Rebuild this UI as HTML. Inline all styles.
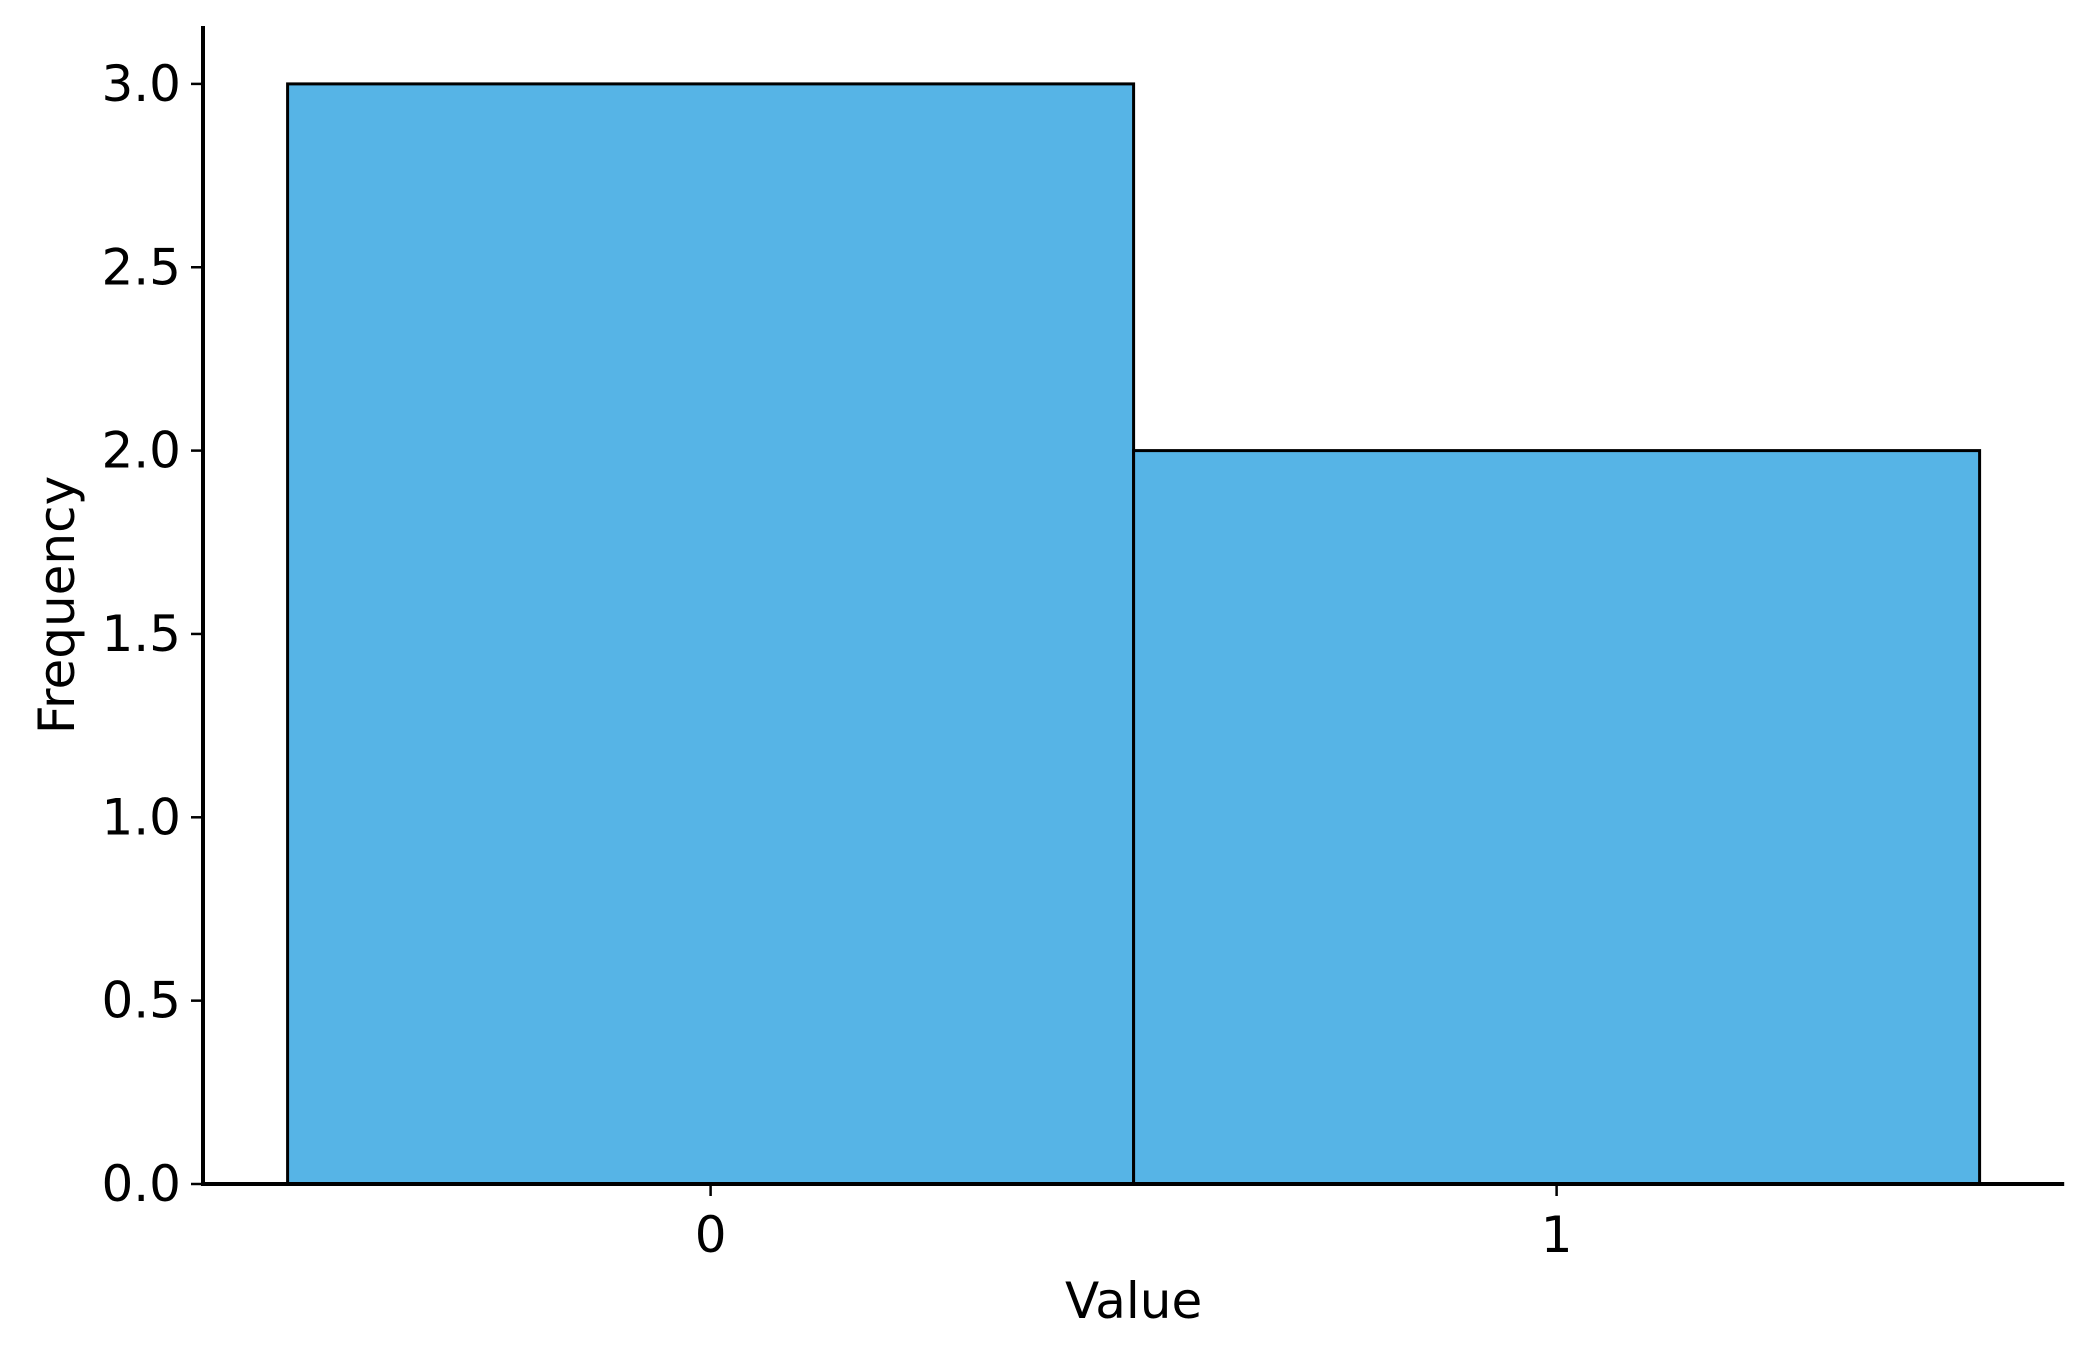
<!DOCTYPE html>
<html><head><meta charset="utf-8"><style>
html,body{margin:0;padding:0;background:#fff}
text{font-family:"DejaVu Sans","Liberation Sans",sans-serif;fill:#000}
</style></head><body>
<svg id="chart" width="2093" height="1356" xmlns="http://www.w3.org/2000/svg">
<g id="bars"></g>
<g id="axes"></g>
</svg>
<script>
const binEdges = [-0.5, 0.5, 1.5];
const counts = [3, 2];
const xTicks = [0, 1];
const xTickLabels = ["0", "1"];
const yTicks = [0, 0.5, 1.0, 1.5, 2.0, 2.5, 3.0];
const yTickLabels = ["0.0", "0.5", "1.0", "1.5", "2.0", "2.5", "3.0"];

const NS = "http://www.w3.org/2000/svg";
const X0 = 710.6, XU = 846, Y0 = 1184, YU = 366.7;
const xs = v => X0 + v * XU;
const ys = v => Y0 - v * YU;
const xMin = -0.6, xMax = 1.6, yMax = 3.158;
const FS = 50;

function mk(tag, attrs, parent) {
  const e = document.createElementNS(NS, tag);
  for (const k in attrs) e.setAttribute(k, attrs[k]);
  parent.appendChild(e);
  return e;
}
const bars = document.getElementById('bars');
const axes = document.getElementById('axes');

for (let i = 0; i < counts.length; i++) {
  const x1 = xs(binEdges[i]), x2 = xs(binEdges[i + 1]);
  const r = mk('rect', {x: x1, y: ys(counts[i]), width: x2 - x1, height: ys(0) - ys(counts[i]), fill: '#56b4e6', stroke: '#000', 'stroke-width': 3}, bars);
  
  
}

let s = mk('line', {x1: xs(xMin), y1: ys(0), x2: xs(xMin), y2: ys(yMax), stroke: '#000', 'stroke-width': 4}, axes);


s = mk('line', {x1: xs(xMin) - 2, y1: ys(0), x2: xs(xMax), y2: ys(0), stroke: '#000', 'stroke-width': 4}, axes);



yTicks.forEach((v, i) => {
  const y = ys(v);
  const t = mk('line', {x1: xs(xMin) - 12, y1: y, x2: xs(xMin), y2: y, stroke: '#000', 'stroke-width': 2.5}, axes);
  
  
  const l = mk('text', {x: xs(xMin) - 22, y: y + 17, 'text-anchor': 'end', 'font-size': FS}, axes);
  l.textContent = yTickLabels[i];
  
  
});
xTicks.forEach((v, i) => {
  const x = xs(v);
  const t = mk('line', {x1: x, y1: ys(0), x2: x, y2: ys(0) + 12, stroke: '#000', 'stroke-width': 2.5}, axes);
  
  
  const l = mk('text', {x: x, y: 1252, 'text-anchor': 'middle', 'font-size': FS}, axes);
  l.textContent = xTickLabels[i];
  
  
});
const xl = mk('text', {x: xs((xMin + xMax) / 2), y: 1318, 'text-anchor': 'middle', 'font-size': FS}, axes);
xl.textContent = 'Value';


const yl = mk('text', {x: 0, y: 0, 'text-anchor': 'middle', 'font-size': FS, transform: 'translate(74,' + ys(yMax / 2) + ') rotate(-90)'}, axes);
yl.textContent = 'Frequency';


</script>
</body></html>
